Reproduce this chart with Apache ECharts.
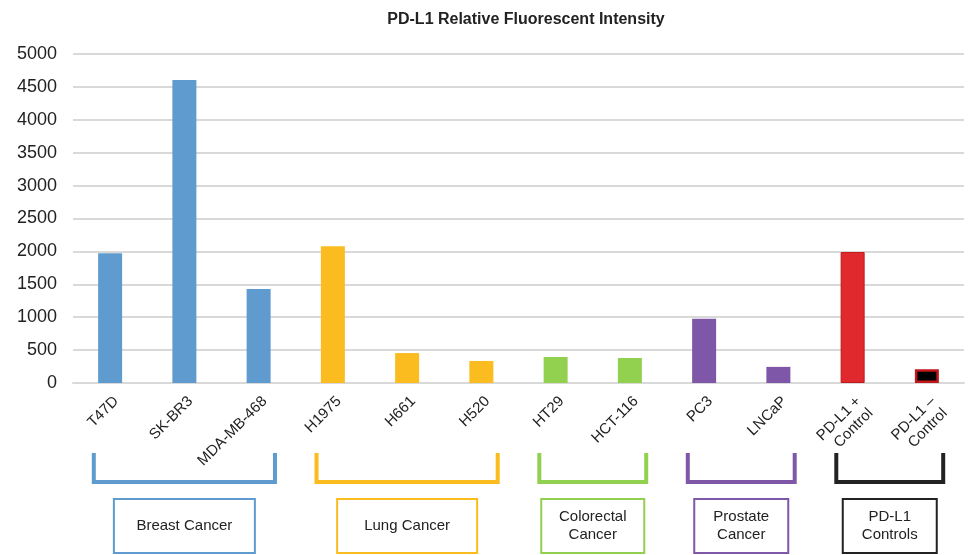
<!DOCTYPE html>
<html>
<head>
<meta charset="utf-8">
<script src="https://cdn.jsdelivr.net/npm/echarts@6/dist/echarts.min.js"></script>
<style>
  html, body { margin: 0; padding: 0; background: #fff; }
  #main { width: 968px; height: 555px; }
</style>
</head>
<body>
<div id="main"></div>
<script>
// cell lines and their readings
var categories = ['T47D', 'SK-BR3', 'MDA-MB-468', 'H1975', 'H661', 'H520',
  'HT29', 'HCT-116', 'PC3', 'LNCaP', 'PD-L1 +\nControl', 'PD-L1 –\nControl'];
var values = [1970, 4605, 1430, 2080, 455, 335, 395, 380, 975, 245, 1990, 210];
var yTicks = [0, 500, 1000, 1500, 2000, 2500, 3000, 3500, 4000, 4500, 5000];

// groups under the axis
var groupNames = ['Breast Cancer', 'Lung Cancer', 'Colorectal\nCancer', 'Prostate\nCancer', 'PD-L1\nControls'];
var groupFirst = [0, 3, 6, 8, 10];
var groupLast = [2, 5, 7, 9, 11];

var groupColors = ['#5f9bcf', '#fbbc1f', '#92d050', '#7e57a8', '#222222'];
var boxWidths = [141, 140, 103, 94, 94];
var fontFam = '"Liberation Sans", Arial, sans-serif';

function barColor(i) {
  if (i === 10) return '#e0292d';
  if (i === 11) return '#000000';
  for (var g = 0; g < groupFirst.length; g++) {
    if (i >= groupFirst[g] && i <= groupLast[g]) return groupColors[g];
  }
}

var chart = echarts.init(document.getElementById('main'));

var option = {
  animation: false,
  title: {
    text: 'PD-L1 Relative Fluorescent Intensity',
    left: 521,
    textAlign: 'center',
    top: 7,
    textStyle: { fontSize: 16, fontWeight: 'bold', color: '#222', fontFamily: fontFam }
  },
  grid: { left: 73, right: 4, top: 54, bottom: 172 },
  xAxis: {
    type: 'category',
    data: categories,
    axisLine: { lineStyle: { color: '#d9d9d9', width: 2 } },
    axisTick: { show: false },
    axisLabel: {
      rotate: 45,
      interval: 0,
      margin: 10,
      verticalAlign: 'top',
      fontSize: 15,
      lineHeight: 17,
      color: '#222',
      fontFamily: fontFam
    }
  },
  yAxis: {
    type: 'value',
    min: yTicks[0],
    max: yTicks[yTicks.length - 1],
    interval: yTicks[1] - yTicks[0],
    axisLine: { show: false },
    axisTick: { show: false },
    axisLabel: {
      fontSize: 18, color: '#222', margin: 16, fontFamily: fontFam,
      formatter: function (v) { return String(v); }
    },
    splitLine: { lineStyle: { color: '#d9d9d9', width: 2 } }
  },
  series: [{
    type: 'bar',
    barWidth: 24,
    data: values.map(function (v, i) {
      var st = { color: barColor(i) };
      if (i >= 10) { st.borderColor = '#c0181c'; st.borderWidth = i === 11 ? 2.5 : 1; }
      return { value: v, itemStyle: st };
    })
  }]
};
chart.setOption(option);

// brackets and boxed group names, placed from the category axis
var graphics = [];
var step = chart.convertToPixel({ xAxisIndex: 0 }, 1) - chart.convertToPixel({ xAxisIndex: 0 }, 0);
for (var g = 0; g < groupNames.length; g++) {
  var x0 = chart.convertToPixel({ xAxisIndex: 0 }, groupFirst[g]) - step * 0.22;
  var x1 = chart.convertToPixel({ xAxisIndex: 0 }, groupLast[g]) + step * 0.22;
  var cx = (x0 + x1) / 2;
  var bw = boxWidths[g];
  graphics.push({
    type: 'polyline',
    shape: { points: [[x0, 453], [x0, 482], [x1, 482], [x1, 453]] },
    style: { stroke: groupColors[g], lineWidth: 4, fill: null }
  });
  graphics.push({
    type: 'rect',
    shape: { x: cx - bw / 2, y: 499, width: bw, height: 54 },
    style: { stroke: groupColors[g], lineWidth: 2, fill: '#fff' }
  });
  graphics.push({
    type: 'text',
    x: cx,
    y: 526,
    style: {
      text: groupNames[g],
      align: 'center',
      verticalAlign: 'middle',
      fontSize: 15,
      lineHeight: 18,
      fill: '#222',
      fontFamily: fontFam
    }
  });
}
chart.setOption({ graphic: graphics });
</script>
</body>
</html>
